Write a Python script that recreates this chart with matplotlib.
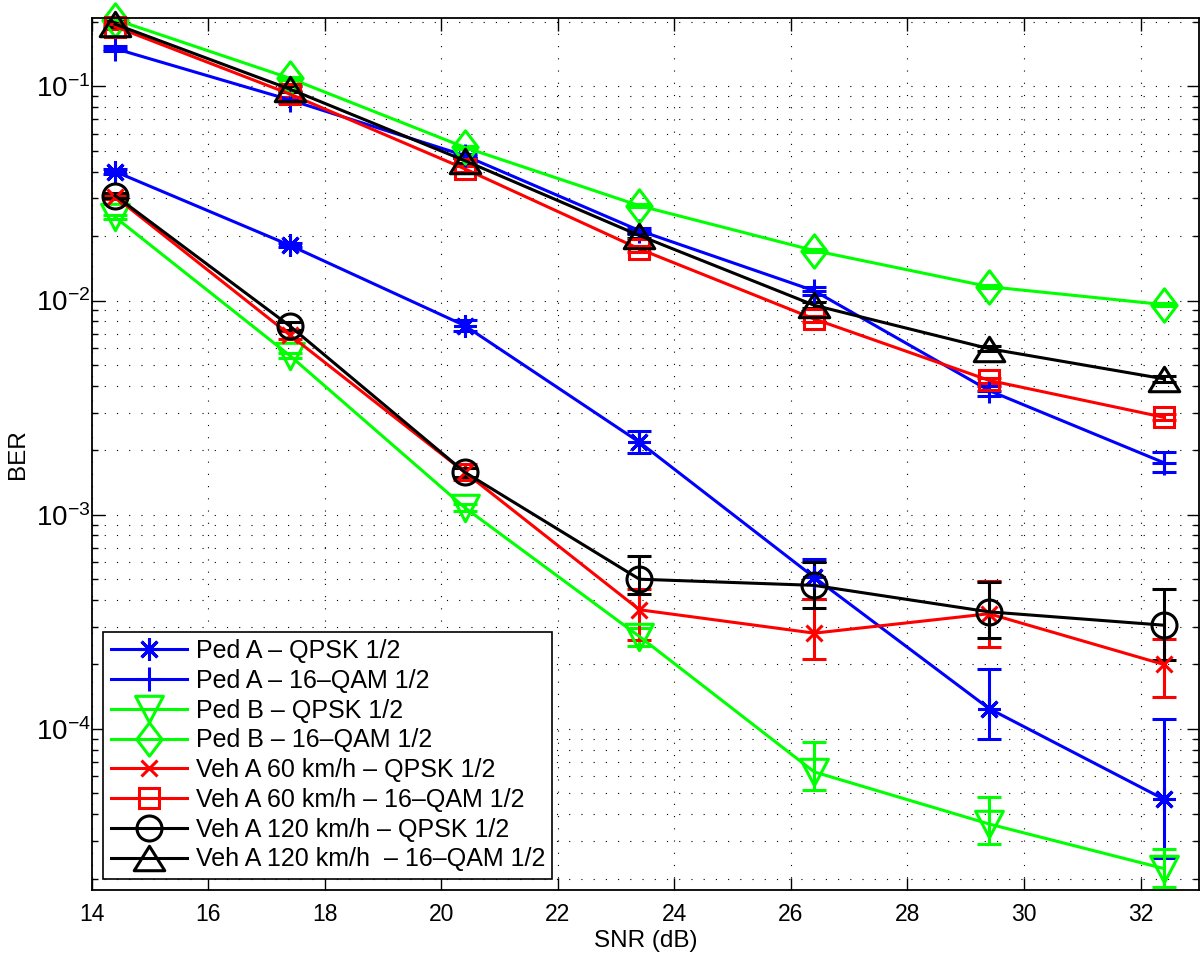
import numpy as np
import matplotlib
matplotlib.use("Agg")
import matplotlib.pyplot as plt
from matplotlib.path import Path
from matplotlib.ticker import LogLocator, LogFormatterMathtext, NullFormatter

plt.rcParams['font.family'] = ['Liberation Sans', 'DejaVu Sans']
plt.rcParams['mathtext.fontset'] = 'custom'
plt.rcParams['mathtext.rm'] = 'Liberation Sans'
plt.rcParams['mathtext.it'] = 'Liberation Sans'
plt.rcParams['mathtext.bf'] = 'Liberation Sans'

snr = [14.4, 17.4, 20.4, 23.4, 26.4, 29.4, 32.4]

labels = [
    "Ped A \u2013 QPSK 1/2",
    "Ped A \u2013 16\u2013QAM 1/2",
    "Ped B \u2013 QPSK 1/2",
    "Ped B \u2013 16\u2013QAM 1/2",
    "Veh A 60 km/h \u2013 QPSK 1/2",
    "Veh A 60 km/h \u2013 16\u2013QAM 1/2",
    "Veh A 120 km/h \u2013 QPSK 1/2",
    "Veh A 120 km/h  \u2013 16\u2013QAM 1/2",
]

# BER values
pedA_qpsk = [0.040, 0.0181, 0.00764, 0.00218, 5.1e-4, 1.245e-4, 4.7e-5]
pedA_16qam = [0.150, 0.0864, 0.0475, 0.0212, 0.0111, 0.0038, 0.00175]
pedB_qpsk = [0.0245, 0.00553, 0.00108, 2.7e-4, 6.3e-5, 3.6e-5, 2.23e-5]
pedB_16qam = [0.205, 0.109, 0.0519, 0.0277, 0.0171, 0.0116, 0.00957]
vehA60_qpsk = [0.0305, 0.0069, 0.00158, 3.6e-4, 2.8e-4, 3.45e-4, 2.0e-4]
vehA60_16qam = [0.19, 0.092, 0.0412, 0.0174, 0.0082, 0.00424, 0.00285]
vehA120_qpsk = [0.0309, 0.0076, 0.00158, 5.0e-4, 4.68e-4, 3.52e-4, 3.05e-4]
vehA120_16qam = [0.195, 0.097, 0.045, 0.0201, 0.0095, 0.00596, 0.00431]

# error bar lower / upper bounds
pedA_qpsk_lo = [0.039, 0.0177, 0.0072, 0.00194, 4.05e-4, 9.0e-5, 2.5e-5]
pedA_qpsk_hi = [0.041, 0.0185, 0.0081, 0.00245, 6.2e-4, 1.9e-4, 1.11e-4]
pedA_16qam_lo = [0.146, 0.084, 0.0465, 0.0205, 0.0106, 0.0036, 0.00158]
pedA_16qam_hi = [0.154, 0.089, 0.0485, 0.0219, 0.0116, 0.0040, 0.00196]
pedB_qpsk_lo = [0.0240, 0.0054, 0.00104, 2.45e-4, 5.2e-5, 2.9e-5, 1.82e-5]
pedB_qpsk_hi = [0.0250, 0.0057, 0.00112, 2.95e-4, 8.7e-5, 4.8e-5, 2.75e-5]
pedB_16qam_lo = [0.201, 0.107, 0.0510, 0.0272, 0.0168, 0.0114, 0.00940]
pedB_16qam_hi = [0.209, 0.111, 0.0528, 0.0282, 0.0174, 0.0118, 0.00975]
vehA60_qpsk_lo = [0.0298, 0.0066, 0.00145, 2.6e-4, 2.13e-4, 2.41e-4, 1.41e-4]
vehA60_qpsk_hi = [0.0312, 0.0072, 0.00172, 4.5e-4, 4.05e-4, 4.9e-4, 2.64e-4]
vehA60_16qam_lo = [0.185, 0.089, 0.0400, 0.0169, 0.0079, 0.0041, 0.00276]
vehA60_16qam_hi = [0.195, 0.095, 0.0424, 0.0179, 0.0085, 0.00437, 0.00294]
vehA120_qpsk_lo = [0.0302, 0.0073, 0.00150, 4.27e-4, 3.68e-4, 2.67e-4, 2.09e-4]
vehA120_qpsk_hi = [0.0316, 0.0079, 0.00166, 6.4e-4, 6.0e-4, 4.84e-4, 4.52e-4]
vehA120_16qam_lo = [0.189, 0.094, 0.0437, 0.0195, 0.0092, 0.0058, 0.00418]
vehA120_16qam_hi = [0.201, 0.100, 0.0463, 0.0207, 0.0098, 0.00614, 0.00444]

series = [
    (pedA_qpsk, pedA_qpsk_lo, pedA_qpsk_hi),
    (pedA_16qam, pedA_16qam_lo, pedA_16qam_hi),
    (pedB_qpsk, pedB_qpsk_lo, pedB_qpsk_hi),
    (pedB_16qam, pedB_16qam_lo, pedB_16qam_hi),
    (vehA60_qpsk, vehA60_qpsk_lo, vehA60_qpsk_hi),
    (vehA60_16qam, vehA60_16qam_lo, vehA60_16qam_hi),
    (vehA120_qpsk, vehA120_qpsk_lo, vehA120_qpsk_hi),
    (vehA120_16qam, vehA120_16qam_lo, vehA120_16qam_hi),
]

# styles
diamond = Path([(0, 1), (0.76, 0), (0, -1), (-0.76, 0), (0, 1)],
               [Path.MOVETO, Path.LINETO, Path.LINETO, Path.LINETO, Path.CLOSEPOLY])
tri_up = Path([(0, 0.8), (1, -0.8), (-1, -0.8), (0, 0.8)],
              [Path.MOVETO, Path.LINETO, Path.LINETO, Path.CLOSEPOLY])
tri_dn = Path([(0, -0.95), (1, 0.95), (-1, 0.95), (0, -0.95)],
              [Path.MOVETO, Path.LINETO, Path.LINETO, Path.CLOSEPOLY])
styles = [
    dict(color=(0, 0, 1), marker=(8, 2, 0), ms=16),
    dict(color=(0, 0, 1), marker='+', ms=17),
    dict(color=(0, 1, 0), marker=tri_dn, ms=20),
    dict(color=(0, 1, 0), marker=diamond, ms=24),
    dict(color=(1, 0, 0), marker='x', ms=12),
    dict(color=(1, 0, 0), marker='s', ms=15),
    dict(color=(0, 0, 0), marker='o', ms=18),
    dict(color=(0, 0, 0), marker=tri_up, ms=22),
]

fig = plt.figure(figsize=(12, 9.56), dpi=100)
ax = fig.add_axes([0.0765, 0.069, 0.9225, 0.912])

lw = 2.2
handles = []
for (vals, lo, hi), st in zip(series, styles):
    v = np.array(vals)
    yerr = np.vstack([v - np.array(lo), np.array(hi) - v])
    c = ax.errorbar(snr, v, yerr=yerr, color=st['color'], marker=st['marker'],
                    ms=st['ms'], mfc='none', mec=st['color'], mew=lw, lw=lw,
                    elinewidth=lw, capsize=8.5, capthick=lw)
    for art in c.get_children():
        art.set_clip_on(False)
    handles.append(c[0])

ax.set_yscale('log')
ax.set_xlim(14, 33)
ax.set_ylim(1.77e-5, 0.208)
ax.set_xticks(np.arange(14, 33, 2))
ax.yaxis.set_major_locator(LogLocator(base=10, numticks=10))
ax.yaxis.set_minor_locator(LogLocator(base=10, subs=np.arange(2, 10), numticks=20))
ax.yaxis.set_major_formatter(LogFormatterMathtext())
ax.yaxis.set_minor_formatter(NullFormatter())

ax.tick_params(which='both', direction='in', top=True, right=True, width=1)
ax.tick_params(which='major', length=9, pad=8)
ax.tick_params(which='minor', length=4.5)
ax.tick_params(axis='x', labelsize=16.5, pad=9)
ax.tick_params(axis='y', labelsize=20, pad=1)
for s in ax.spines.values():
    s.set_linewidth(1.3)

ax.grid(True, which='major', axis='both', color='black', linestyle=(0, (1, 10)), linewidth=0.8)
ax.grid(True, which='minor', axis='y', color='black', linestyle=(0, (1, 10)), linewidth=0.8)
ax.set_axisbelow(True)

ax.set_xlabel('SNR (dB)', fontsize=17.5, labelpad=3)
ax.set_ylabel('BER', fontsize=17.5, labelpad=5)

leg = ax.legend(handles, labels, loc='lower left', fontsize=18, numpoints=1,
                handlelength=3.05, handletextpad=0.35, labelspacing=0.23,
                borderaxespad=0.45, borderpad=0.3, fancybox=False, framealpha=1,
                edgecolor='black')
leg.get_frame().set_linewidth(1.2)

fig.savefig('out.png', dpi=100)
